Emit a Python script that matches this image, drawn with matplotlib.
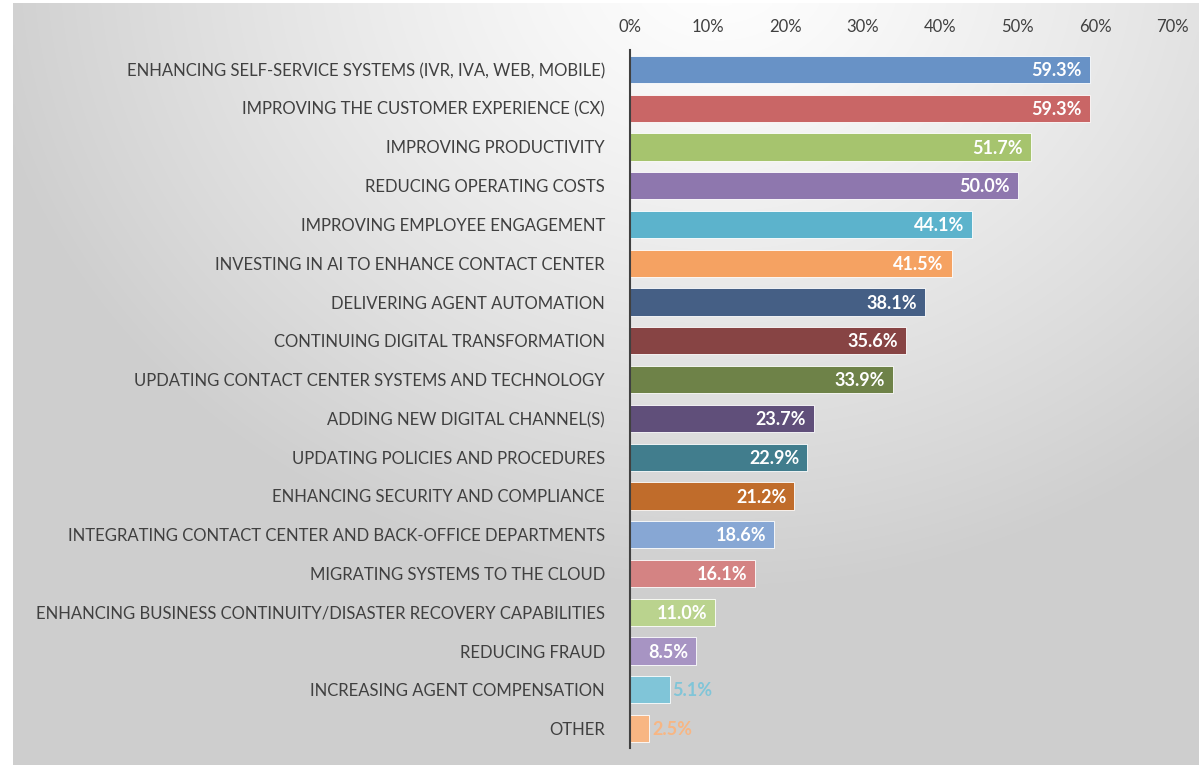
import numpy as np
import matplotlib
matplotlib.use("Agg")
import matplotlib.pyplot as plt
from matplotlib.ticker import FuncFormatter

categories = [
    "ENHANCING SELF-SERVICE SYSTEMS (IVR, IVA, WEB, MOBILE)",
    "IMPROVING THE CUSTOMER EXPERIENCE (CX)",
    "IMPROVING PRODUCTIVITY",
    "REDUCING OPERATING COSTS",
    "IMPROVING EMPLOYEE ENGAGEMENT",
    "INVESTING IN AI TO ENHANCE CONTACT CENTER",
    "DELIVERING AGENT AUTOMATION",
    "CONTINUING DIGITAL TRANSFORMATION",
    "UPDATING CONTACT CENTER SYSTEMS AND TECHNOLOGY",
    "ADDING NEW DIGITAL CHANNEL(S)",
    "UPDATING POLICIES AND PROCEDURES",
    "ENHANCING SECURITY AND COMPLIANCE",
    "INTEGRATING CONTACT CENTER AND BACK-OFFICE DEPARTMENTS",
    "MIGRATING SYSTEMS TO THE CLOUD",
    "ENHANCING BUSINESS CONTINUITY/DISASTER RECOVERY CAPABILITIES",
    "REDUCING FRAUD",
    "INCREASING AGENT COMPENSATION",
    "OTHER",
]
values = [59.3, 59.3, 51.7, 50.0, 44.1, 41.5, 38.1, 35.6, 33.9, 23.7, 22.9,
          21.2, 18.6, 16.1, 11.0, 8.5, 5.1, 2.5]
colors = ["#6892C6", "#C96666", "#A6C46E", "#8E77AE", "#5CB3CC", "#F5A262",
          "#455F85", "#874444", "#6E8248", "#604F7A", "#417D8D", "#C06C2B",
          "#87A7D4", "#D48383", "#BAD38E", "#A794C3", "#80C5D8", "#F8B683"]
ticks = [0, 10, 20, 30, 40, 50, 60, 70]

FONT = ["Lato", "DejaVu Sans"]

W, H = 1199, 768
fig = plt.figure(figsize=(W / 100, H / 100), dpi=100)
fig.patch.set_facecolor("white")

# gradient background panel
bg = fig.add_axes([13 / W, 3 / H, 1 - 13 / W, 1 - 6 / H])
bg.set_axis_off()
ny, nx = 200, 320
yy, xx = np.mgrid[0:ny, 0:nx]
px = xx / (nx - 1) * (W - 13) + 13
py = yy / (ny - 1) * (H - 6) + 3
cx, cy = 720, -40
d = np.sqrt(((px - cx) * 1.1) ** 2 + ((py - cy) * 1.3) ** 2)
g = 1.0 - 0.19 * np.clip(d / 820, 0, 1) ** 1.2
img = np.dstack([g, g, g])
bg.imshow(img, aspect="auto", extent=[0, 1, 1, 0], interpolation="bilinear")
bg.set_xlim(0, 1)
bg.set_ylim(1, 0)

x0, x1 = 630 / W, 1172.5 / W
y_top, y_bot = 1 - 50 / H, 1 - 748 / H
ax = fig.add_axes([x0, y_bot, x1 - x0, y_top - y_bot])
ax.patch.set_alpha(0)

ypos = np.arange(len(categories))
ax.barh(ypos, values, height=0.7, color=colors, edgecolor="white",
        linewidth=0.6)
ax.set_ylim(len(categories) - 0.5, -0.5)
ax.set_xlim(0, 70)
ax.set_xticks(ticks)
ax.xaxis.set_major_formatter(FuncFormatter(lambda v, p: f"{v:.0f}%"))
ax.xaxis.tick_top()
ax.tick_params(axis="x", length=0, pad=11, labelsize=12, labelcolor="#404040")
ax.set_yticks(ypos)
ax.set_yticklabels(categories)
ax.tick_params(axis="y", length=0, pad=18, labelsize=12, labelcolor="#404040")
for lab in ax.get_yticklabels() + ax.get_xticklabels():
    lab.set_family(FONT)
for s in ["top", "right", "bottom"]:
    ax.spines[s].set_visible(False)
ax.spines["left"].set_color("#404040")
ax.spines["left"].set_linewidth(1.5)

for y, v, c in zip(ypos, values, colors):
    if v > 8:
        ax.text(v - 1.0, y + 0.03, f"{v:.1f}%", ha="right", va="center",
                color="white", fontsize=13, fontweight="bold", family=FONT)
    else:
        ax.text(v + 0.4, y + 0.03, f"{v:.1f}%", ha="left", va="center",
                color=c, fontsize=13, fontweight="bold", family=FONT)

fig.savefig("out.png", dpi=100)
